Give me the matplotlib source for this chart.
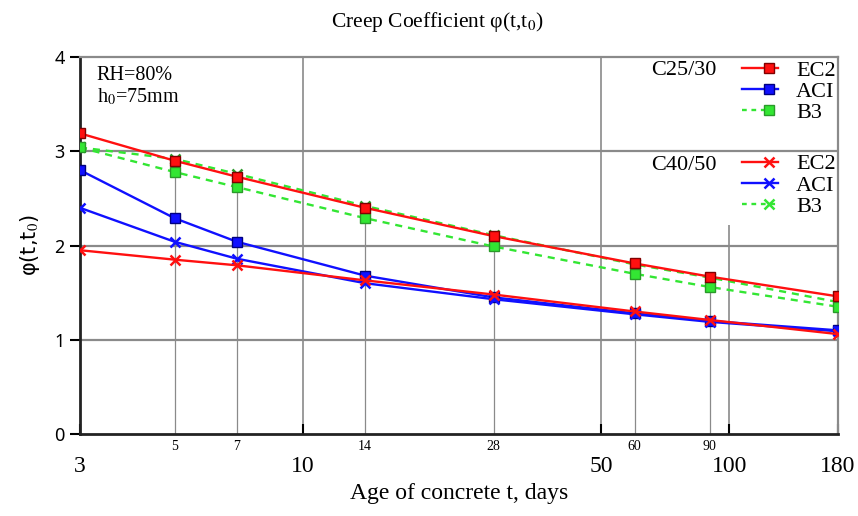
import matplotlib.pyplot as plt
from matplotlib.lines import Line2D
from matplotlib.legend_handler import HandlerLine2D

plt.rcParams['font.family'] = ['Liberation Serif', 'DejaVu Serif']
plt.rcParams['mathtext.fontset'] = 'stix'

# Age of concrete, days
t = [3, 5, 7, 14, 28, 60, 90, 180]

# C25/30
ec2_c25 = [3.19, 2.90, 2.73, 2.40, 2.10, 1.81, 1.67, 1.46]
aci_c25 = [2.80, 2.29, 2.04, 1.68, 1.45, 1.28, 1.20, 1.10]
b3_c25 = [3.04, 2.78, 2.62, 2.29, 1.99, 1.70, 1.56, 1.35]

# C40/50
ec2_c40 = [1.95, 1.85, 1.79, 1.63, 1.48, 1.30, 1.21, 1.06]
aci_c40 = [2.40, 2.04, 1.86, 1.60, 1.43, 1.27, 1.19, 1.09]
b3_c40 = [3.04, 2.92, 2.76, 2.42, 2.11, 1.80, 1.66, 1.40]

major_x = [3, 10, 50, 100, 180]
minor_x = [5, 7, 14, 28, 60, 90]

red, blue, green = '#ff1010', '#1010ff', '#33e633'
grey = '#8a8a8a'


class EndMarkerHandler(HandlerLine2D):
    # draw the legend marker near the right end of the line
    def create_artists(self, *args, **kwargs):
        artists = super().create_artists(*args, **kwargs)
        for a in artists:
            a.set_markevery([3])
        return artists


fig = plt.figure(figsize=(8.58, 5.16), dpi=100)
ax = fig.add_axes([0.0932, 0.1589, 0.8835, 0.7306])
ax.set_xscale('log')
ax.set_xlim(3, 180)
ax.set_ylim(0, 4)

# grid
for yv in [1, 2, 3]:
    ax.axhline(yv, color=grey, lw=1.6, zorder=1)
ax.axvline(10, color=grey, lw=1.2, zorder=1)
ax.axvline(50, color=grey, lw=1.2, zorder=1)
ax.vlines(100, 0, 2.22, color=grey, lw=1.2, zorder=1)
# drop lines to the top curve
ax.vlines(minor_x, 0, ec2_c25[1:-1], color=grey, lw=0.9, zorder=1)

sq = dict(marker='s', ms=7, mew=1.0)
xm = dict(marker='x', ms=7, mew=1.8)

ax.plot(t, b3_c40, color=green, ls=(0, (3, 2.5)), lw=1.7, mfc=green, mec='#2a9a2a', zorder=3, **xm)
ax.plot(t, b3_c25, color=green, ls=(0, (3, 2.5)), lw=1.7, mfc=green, mec='#2a9a2a', zorder=3, **sq)
ax.plot(t, aci_c25, color=blue, lw=1.7, mfc=blue, mec='#000080', zorder=4, **sq)
ax.plot(t, aci_c40, color=blue, lw=1.7, mec=blue, zorder=4, **xm)
ax.plot(t, ec2_c40, color=red, lw=1.7, mec=red, zorder=5, **xm)
ax.plot(t, ec2_c25, color=red, lw=1.7, mfc=red, mec='#800000', zorder=5, **sq)

# axes styling
for s in ['top', 'right']:
    ax.spines[s].set_color(grey)
    ax.spines[s].set_linewidth(1.6)
for s in ['left', 'bottom']:
    ax.spines[s].set_color('#222222')
    ax.spines[s].set_linewidth(2.0)

ax.set_yticks([0, 1, 2, 3, 4])
ax.tick_params(axis='y', labelsize=13, length=7, width=1.5, pad=4)
for lab in ax.get_yticklabels():
    lab.set_family('Noto Sans')

ax.set_xticks(major_x)
ax.set_xticklabels([str(v) for v in major_x])
ax.set_xticks(minor_x, minor=True)
ax.set_xticklabels([str(v) for v in minor_x], minor=True)
ax.tick_params(axis='x', which='major', labelsize=17, direction='in', length=7, width=1.5, pad=16)
ax.tick_params(axis='x', which='minor', labelsize=10, length=0, pad=4)

fig.text(437.5 / 858, 1 - 22 / 516, 'Creep Coefficient φ(t,t$_0$)', ha='center', va='center', fontsize=15.5)
ax.set_xlabel('Age of concrete t, days', fontsize=17, va='center')
ax.xaxis.set_label_coords(0.5, (434 - 493) / 377)
ax.set_ylabel('φ(t,t$_0$)', fontsize=15, family='DejaVu Sans', va='center')
ax.yaxis.set_label_coords((30 - 80) / 758, 0.5)

ax.text(0.022, 0.975, 'RH=80%\nh$_0$=75mm', transform=ax.transAxes, ha='left', va='top',
        fontsize=14.5, linespacing=1.05)

# legends
h25 = [Line2D([], [], color=red, lw=1.7, mfc=red, mec='#800000', **sq),
       Line2D([], [], color=blue, lw=1.7, mfc=blue, mec='#000080', **sq),
       Line2D([], [], color=green, ls=(0, (2, 2)), lw=1.7, mfc=green, mec='#2a9a2a', **sq)]
h40 = [Line2D([], [], color=red, lw=1.7, mec=red, **xm),
       Line2D([], [], color=blue, lw=1.7, mec=blue, **xm),
       Line2D([], [], color=green, ls=(0, (2, 2)), lw=1.7, mec=green, **xm)]
names = ['EC2', 'ACI', 'B3']
leg_kw = dict(frameon=False, fontsize=16, handlelength=1.65, labelspacing=0.03, numpoints=5,
              handletextpad=0.8, borderaxespad=0.0, borderpad=0.0, loc='upper right',
              handler_map={Line2D: EndMarkerHandler(marker_pad=0.0)})
leg1 = ax.legend(h25, names, bbox_to_anchor=(0.997, 0.992), **leg_kw)
ax.add_artist(leg1)
ax.legend(h40, names, bbox_to_anchor=(0.997, 0.743), **leg_kw)
ax.text(0.840, 0.963, 'C25/30', transform=ax.transAxes, ha='right', va='center', fontsize=16)
ax.text(0.840, 0.7135, 'C40/50', transform=ax.transAxes, ha='right', va='center', fontsize=16)

fig.savefig('out.png', dpi=100)
